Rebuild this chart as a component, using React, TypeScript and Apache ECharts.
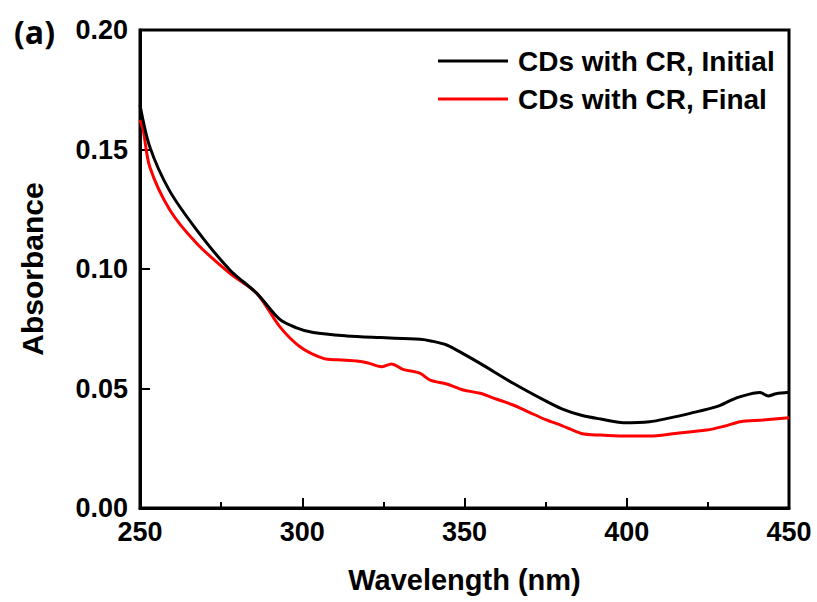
import React, { useEffect, useRef } from "react";
import * as echarts from "echarts";

const initialWl = [250, 253, 259, 267.5, 277.7, 286, 293, 298, 303.4, 313.7, 324, 336.3, 340, 344.5, 349, 354.8, 365, 375, 380, 386, 392, 399, 407, 413, 419.5, 427.7, 432, 435, 441, 443.6, 446, 450];
const initialAbs = [0.1686, 0.1512, 0.133, 0.1163, 0.0996, 0.0898, 0.079, 0.0755, 0.0734, 0.072, 0.0713, 0.0706, 0.0698, 0.0682, 0.065, 0.0605, 0.0522, 0.0448, 0.0415, 0.0388, 0.0372, 0.0357, 0.0361, 0.0376, 0.0396, 0.0424, 0.045, 0.0466, 0.0483, 0.0469, 0.0478, 0.0484];

const finalWl = [250, 251, 253, 259.2, 267.5, 277.7, 286, 293, 299.3, 306.5, 311, 316.8, 320, 324.4, 327.5, 331, 336.2, 339.4, 344.5, 349.6, 354.8, 360, 365, 370, 375, 380, 386, 392, 399, 407, 415, 424.6, 430, 435, 442, 450];
const finalAbs = [0.1623, 0.158, 0.1428, 0.1247, 0.1107, 0.0982, 0.0898, 0.076, 0.0675, 0.0626, 0.062, 0.0615, 0.0608, 0.0591, 0.0603, 0.058, 0.0564, 0.0535, 0.0519, 0.0494, 0.048, 0.0455, 0.0431, 0.04, 0.037, 0.0345, 0.0312, 0.0305, 0.0301, 0.0301, 0.0312, 0.0326, 0.0342, 0.0361, 0.0368, 0.0378];

const seriesNames = ["CDs with CR, Initial", "CDs with CR, Final"];
const seriesColors = ["#000000", "#ff0000"];

const FONT = "'Liberation Sans', Arial, sans-serif";

export default function App() {
  const ref = useRef<HTMLDivElement>(null);
  useEffect(() => {
    if (!ref.current) return;
    const chart = echarts.init(ref.current, undefined, { renderer: "svg" });
    const pairs = (xs: number[], ys: number[]) => xs.map((x, i) => [x, ys[i]]);
    chart.setOption({
      animation: false,
      backgroundColor: "#fff",
      textStyle: { fontFamily: FONT },
      grid: {
        left: 140,
        right: 28,
        top: 30,
        bottom: 94,
        show: true,
        borderColor: "#000",
        borderWidth: 3,
        outerBoundsMode: "none",
      },
      graphic: [
        {
          type: "text",
          left: 14,
          top: 15,
          style: { text: "(a)", font: "bold 32px 'Open Sans', sans-serif", fill: "#000" },
        },
      ],
      legend: {
        orient: "vertical",
        left: 433,
        top: 41,
        itemWidth: 70,
        itemHeight: 3,
        itemGap: 8,
        icon: "rect",
        data: seriesNames,
        textStyle: { fontSize: 28, fontWeight: "bold", color: "#000", fontFamily: FONT, lineHeight: 30, padding: [0, 0, 0, 5] },
      },
      xAxis: {
        type: "value",
        min: 250,
        max: 450,
        interval: 50,
        name: "Wavelength (nm)",
        nameLocation: "middle",
        nameGap: 57,
        nameTextStyle: { fontSize: 29, fontWeight: "bold", color: "#000", fontFamily: FONT },
        axisLine: { show: true, lineStyle: { color: "#000", width: 3 } },
        axisTick: { show: true, inside: true, length: 10, lineStyle: { color: "#000", width: 2 } },
        minorTick: { show: true, splitNumber: 2, length: 6, lineStyle: { color: "#000", width: 2 } },
        splitLine: { show: false },
        axisLabel: { fontSize: 27, fontWeight: "bold", color: "#000", margin: 10, fontFamily: FONT },
      },
      yAxis: {
        type: "value",
        min: 0,
        max: 0.2,
        interval: 0.05,
        name: "Absorbance",
        nameLocation: "middle",
        nameGap: 93,
        nameTextStyle: { fontSize: 30, fontWeight: "bold", color: "#000", fontFamily: FONT },
        axisLine: { show: true, lineStyle: { color: "#000", width: 3 } },
        axisTick: { show: true, inside: true, length: 10, lineStyle: { color: "#000", width: 2 } },
        splitLine: { show: false },
        axisLabel: {
          fontSize: 27,
          fontWeight: "bold",
          color: "#000",
          margin: 12,
          fontFamily: FONT,
          formatter: (v: number) => v.toFixed(2),
        },
      },
      series: [
        {
          name: seriesNames[0],
          type: "line",
          data: pairs(initialWl, initialAbs),
          showSymbol: false,
          smooth: 0.3,
          lineStyle: { color: seriesColors[0], width: 3 },
          itemStyle: { color: seriesColors[0] },
          z: 3,
        },
        {
          name: seriesNames[1],
          type: "line",
          data: pairs(finalWl, finalAbs),
          showSymbol: false,
          smooth: 0.3,
          lineStyle: { color: seriesColors[1], width: 3 },
          itemStyle: { color: seriesColors[1] },
          z: 2,
        },
      ],
    });
    return () => chart.dispose();
  }, []);
  return <div ref={ref} style={{ width: 817, height: 602, position: "absolute", left: 0, top: 0 }} />;
}
